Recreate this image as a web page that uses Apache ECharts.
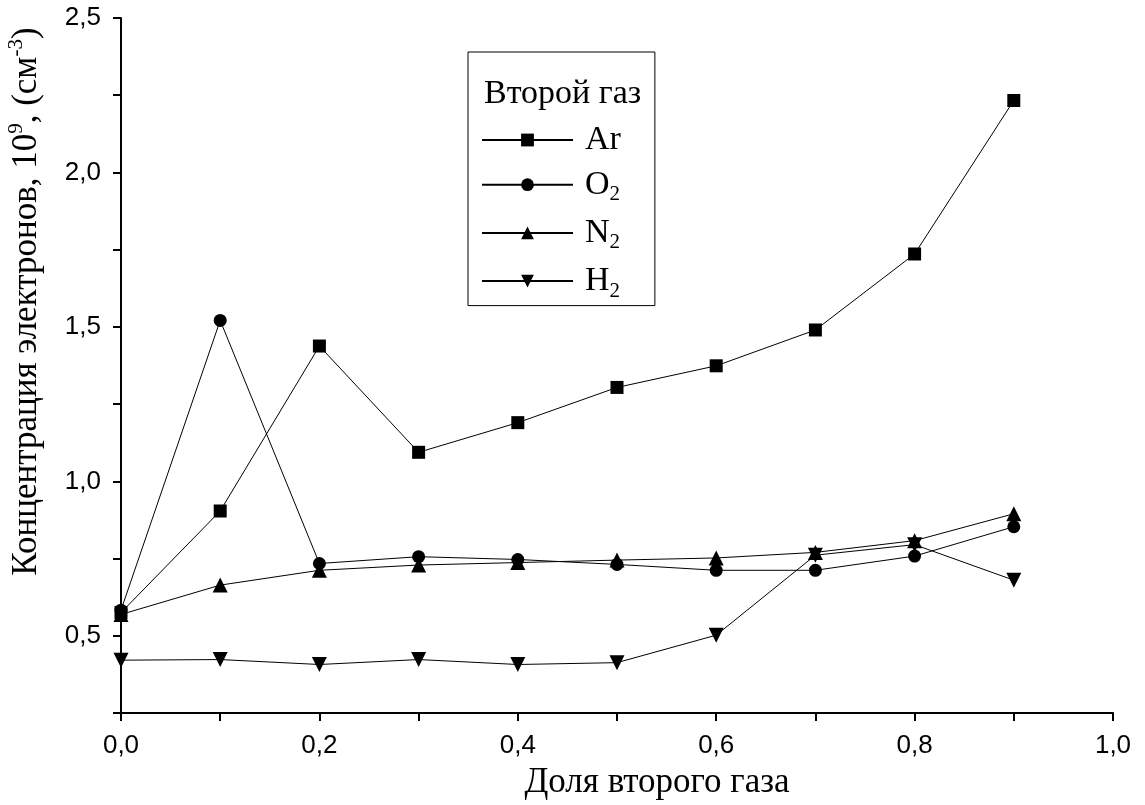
<!DOCTYPE html>
<html><head><meta charset="utf-8">
<script src="https://cdn.jsdelivr.net/npm/echarts@6/dist/echarts.min.js"></script>
<style>html,body{margin:0;padding:0;background:#fff}#c{width:1145px;height:805px}</style>
</head><body><div id="c"></div>
<script>
const xValues = [0, 0.1, 0.2, 0.3, 0.4, 0.5, 0.6, 0.7, 0.8, 0.9];
const arValues = [0.575, 0.904, 1.438, 1.094, 1.190, 1.304, 1.374, 1.490, 1.736, 2.233];
const o2Values = [0.583, 1.521, 0.734, 0.756, 0.747, 0.731, 0.712, 0.712, 0.758, 0.853];
const n2Values = [0.569, 0.664, 0.712, 0.729, 0.737, 0.745, 0.752, 0.770, 0.808, 0.895];
const h2Values = [0.421, 0.423, 0.407, 0.423, 0.407, 0.413, 0.502, 0.761, 0.795, 0.680];
const seriesNames = ['Ar', 'O2', 'N2', 'H2'];
const legendTitle = 'Второй газ';
const xAxisTitle = 'Доля второго газа';
const yAxisTitle = 'Концентрация электронов, 10{sup|9}, (см{sup|-3})';

const serif = '"Liberation Serif", "Times New Roman", serif';
const sans = '"Liberation Sans", Arial, sans-serif';
const comma = v => (Math.round(v * 10) / 10).toFixed(1).replace('.', ',');

function mk(name, vals, symbol, size, rot) {
  return {
    name: name, type: 'line',
    data: xValues.map((x, i) => [x, vals[i]]),
    symbol: symbol, symbolSize: size, symbolRotate: rot || 0,
    lineStyle: {color: '#000', width: 1},
    itemStyle: {color: '#000'},
    showAllSymbol: true, animation: false
  };
}

const chart = echarts.init(document.getElementById('c'), null, {renderer: 'canvas'});
chart.setOption({
  animation: false,
  backgroundColor: '#fff',
  grid: {left: 121, right: 32, top: 18, bottom: 92, containLabel: false, outerBoundsMode: 'none'},
  title: {
    text: legendTitle, left: 479, top: 72,
    textStyle: {fontFamily: serif, fontSize: 34, fontWeight: 'normal', color: '#000'}
  },
  legend: {
    orient: 'vertical', left: 468, top: 52,
    padding: [71, 34, 4, 13],
    borderColor: '#000', borderWidth: 1,
    itemWidth: 91, itemHeight: 16, itemGap: 10.7,
    data: seriesNames,
    formatter: n => n.replace(/(\d+)/, '{sub|$1}'),
    textStyle: {
      fontFamily: serif, fontSize: 34, color: '#000', lineHeight: 34, padding: [0, 0, 0, 7],
      rich: {sub: {fontFamily: serif, fontSize: 21, color: '#000', padding: [20, 0, 0, 0]}}
    }
  },
  xAxis: {
    type: 'value', min: 0, max: 1, interval: 0.1,
    name: xAxisTitle, nameLocation: 'middle', nameGap: 52,
    nameTextStyle: {fontFamily: serif, fontSize: 35, color: '#000', padding: [0, 0, 0, 80]},
    axisLine: {lineStyle: {color: '#000', width: 2}},
    axisTick: {inside: false, length: 8, lineStyle: {color: '#000', width: 2}},
    axisLabel: {
      margin: 20, fontFamily: sans, fontSize: 26, color: '#000',
      formatter: v => (Math.round(v * 10) % 2 === 0) ? comma(v) : ''
    },
    splitLine: {show: false}
  },
  yAxis: {
    type: 'value', min: 0.25, max: 2.5, interval: 0.25,
    name: yAxisTitle, nameLocation: 'middle', nameGap: 74, nameRotate: 90,
    nameTextStyle: {
      fontFamily: serif, fontSize: 35, color: '#000', padding: [0, 0, 0, 128],
      rich: {sup: {fontFamily: serif, fontSize: 21, color: '#000', padding: [0, 0, 20, 0]}}
    },
    axisLine: {show: true, lineStyle: {color: '#000', width: 2}},
    axisTick: {inside: false, length: 8, lineStyle: {color: '#000', width: 2}},
    axisLabel: {
      margin: 20, fontFamily: sans, fontSize: 26, color: '#000',
      formatter: v => (Math.round(v * 100) % 50 === 0) ? comma(v) : ''
    },
    splitLine: {show: false}
  },
  series: [
    mk('Ar', arValues, 'rect', 13),
    mk('O2', o2Values, 'circle', 13),
    mk('N2', n2Values, 'triangle', 15),
    mk('H2', h2Values, 'triangle', 15, 180)
  ]
});
</script></body></html>
